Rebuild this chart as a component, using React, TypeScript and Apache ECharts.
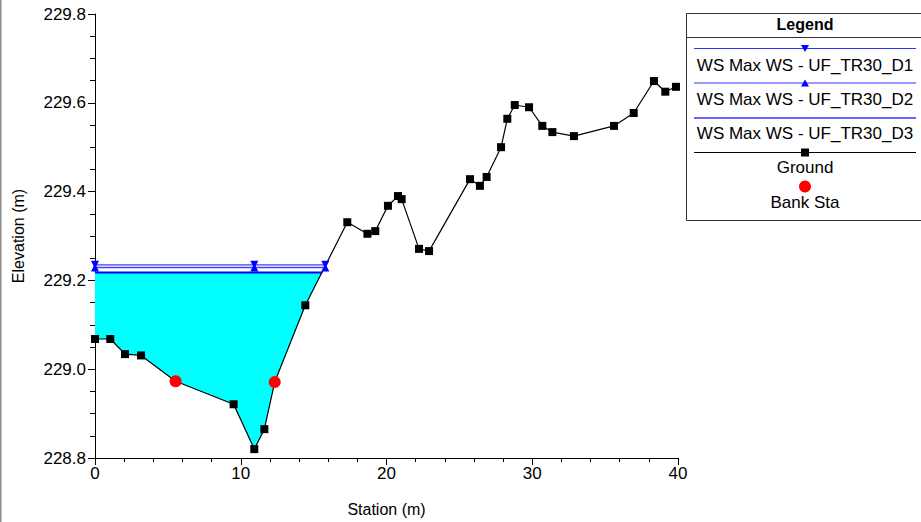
import React, { useEffect, useRef } from "react";
import * as echarts from "echarts";

const groundStation = [0, 1.05, 2.06, 3.16, 5.53, 9.51, 10.93, 11.62, 12.33, 14.43, 17.31, 18.69, 19.23, 20.1, 20.79, 21.04, 22.23, 22.92, 25.73, 26.41, 26.87, 27.86, 28.29, 28.8, 29.78, 30.69, 31.38, 32.86, 35.61, 36.96, 38.35, 39.13, 39.86];
const groundElev = [229.068, 229.068, 229.034, 229.031, 228.973, 228.921, 228.82, 228.865, 228.971, 229.144, 229.331, 229.305, 229.311, 229.368, 229.39, 229.383, 229.271, 229.266, 229.428, 229.413, 229.433, 229.5, 229.564, 229.595, 229.59, 229.548, 229.534, 229.525, 229.548, 229.577, 229.649, 229.625, 229.636];
const groundMarked = [true, true, true, true, false, true, true, true, false, true, true, true, true, true, true, true, true, true, true, true, true, true, true, true, true, true, true, true, true, true, true, true, true];

const bankStation = [5.53, 12.33];
const bankElev = [228.973, 228.971];

const ws1Station = [0, 10.93, 15.8];
const ws1Elev = [229.235, 229.235, 229.235];
const ws2Station = [0, 10.93, 15.8];
const ws2Elev = [229.229, 229.229, 229.229];
const ws3Station = [0, 15.6];
const ws3Elev = [229.218, 229.218];

const seriesNames = ["WS Max WS - UF_TR30_D1", "WS Max WS - UF_TR30_D2", "WS Max WS - UF_TR30_D3", "Ground", "Bank Sta"];

const FONT = "'Liberation Sans', Arial, Helvetica, sans-serif";

export default function App() {
  const ref = useRef<HTMLDivElement>(null);
  useEffect(() => {
    if (!ref.current) return;
    const chart = echarts.init(ref.current, null, { renderer: "svg" });

    const pair = (xs: number[], ys: number[]) => xs.map((x, i) => [x, ys[i]]);

    // water fill polygon: top along WS3, then ground back to station 0
    const wsEnd = ws3Station[ws3Station.length - 1];
    const fillPts: number[][] = [[ws3Station[0], ws3Elev[0]], [wsEnd, ws3Elev[ws3Elev.length - 1]]];
    for (let i = groundStation.length - 1; i >= 0; i--) {
      if (groundStation[i] < wsEnd) fillPts.push([groundStation[i], groundElev[i]]);
    }

    const lx = 805;
    const legendItems: any[] = [
      { type: "rect", shape: { x: 686.5, y: 13.5, width: 260, height: 207 }, style: { fill: "#fff", stroke: "#333", lineWidth: 1 } },
      { type: "text", x: lx, y: 24, style: { text: "Legend", font: `bold 16px ${FONT}`, fill: "#000", align: "center", verticalAlign: "middle" } },
      { type: "line", shape: { x1: 686, y1: 37.5, x2: 921, y2: 37.5 }, style: { stroke: "#333", lineWidth: 1 } },
      // D1
      { type: "line", shape: { x1: 694, y1: 48.5, x2: 916, y2: 48.5 }, style: { stroke: "#3333ff", lineWidth: 1.2 } },
      { type: "polygon", shape: { points: [[lx - 4, 45], [lx + 4, 45], [lx, 52]] }, style: { fill: "#0000ff" } },
      { type: "text", x: lx, y: 65, style: { text: seriesNames[0], font: `17px ${FONT}`, fill: "#000", align: "center", verticalAlign: "middle" } },
      // D2
      { type: "line", shape: { x1: 694, y1: 83, x2: 916, y2: 83 }, style: { stroke: "#3333ff", lineWidth: 1.2 } },
      { type: "polygon", shape: { points: [[lx - 4, 86.5], [lx + 4, 86.5], [lx, 79.5]] }, style: { fill: "#0000ff" } },
      { type: "text", x: lx, y: 99.5, style: { text: seriesNames[1], font: `17px ${FONT}`, fill: "#000", align: "center", verticalAlign: "middle" } },
      // D3
      { type: "line", shape: { x1: 694, y1: 118, x2: 916, y2: 118 }, style: { stroke: "#3333ff", lineWidth: 1.5 } },
      { type: "text", x: lx, y: 133.5, style: { text: seriesNames[2], font: `17px ${FONT}`, fill: "#000", align: "center", verticalAlign: "middle" } },
      // Ground
      { type: "line", shape: { x1: 694, y1: 152.5, x2: 916, y2: 152.5 }, style: { stroke: "#000", lineWidth: 1.2 } },
      { type: "rect", shape: { x: lx - 4, y: 148.5, width: 8, height: 8 }, style: { fill: "#000" } },
      { type: "text", x: lx, y: 167.5, style: { text: seriesNames[3], font: `17px ${FONT}`, fill: "#000", align: "center", verticalAlign: "middle" } },
      // Bank
      { type: "circle", shape: { cx: lx, cy: 186.5, r: 6 }, style: { fill: "#ff0000" } },
      { type: "text", x: lx, y: 202, style: { text: seriesNames[4], font: `17px ${FONT}`, fill: "#000", align: "center", verticalAlign: "middle" } },
      // page left border
      { type: "rect", shape: { x: 0, y: 0, width: 1.5, height: 522 }, style: { fill: "#8c8c8c" } },
    ];

    const option: any = {
      animation: false,
      backgroundColor: "#fff",
      grid: { left: 95, right: 243, top: 14, bottom: 64, containLabel: false },
      xAxis: {
        type: "value",
        min: 0,
        max: 40,
        interval: 10,
        name: "Station (m)",
        nameLocation: "middle",
        nameGap: 43,
        nameTextStyle: { fontFamily: FONT, fontSize: 16, color: "#000" },
        axisLine: { show: true, onZero: false, lineStyle: { color: "#000", width: 1 } },
        axisTick: { show: true, length: 7, lineStyle: { color: "#000" } },
        minorTick: { show: true, splitNumber: 5, length: 4, lineStyle: { color: "#000" } },
        axisLabel: { fontFamily: FONT, fontSize: 17, color: "#000", margin: 7 },
        splitLine: { show: false },
      },
      yAxis: {
        type: "value",
        min: 228.8,
        max: 229.8,
        interval: 0.2,
        name: "Elevation (m)",
        nameLocation: "middle",
        nameGap: 69,
        nameTextStyle: { fontFamily: FONT, fontSize: 16, color: "#000" },
        axisLine: { show: true, onZero: false, lineStyle: { color: "#000", width: 1 } },
        axisTick: { show: true, length: 7, lineStyle: { color: "#000" } },
        minorTick: { show: true, splitNumber: 4, length: 5, lineStyle: { color: "#000" } },
        axisLabel: { fontFamily: FONT, fontSize: 17, color: "#000", margin: 9, formatter: (v: number) => v.toFixed(1) },
        splitLine: { show: false },
      },
      series: [
        {
          type: "custom",
          name: "fill",
          z: 1,
          silent: true,
          data: [[0, ws3Elev[0]]],
          renderItem: (_params: any, api: any) => ({
            type: "polygon",
            shape: { points: fillPts.map((p) => api.coord(p)) },
            style: { fill: "#00ffff", stroke: "none" },
          }),
        },
        {
          type: "line",
          name: seriesNames[3],
          z: 2,
          data: groundStation.map((x, i) => ({
            value: [x, groundElev[i]],
            symbol: groundMarked[i] ? "rect" : "none",
          })),
          symbol: "rect",
          symbolSize: 8,
          showAllSymbol: true,
          lineStyle: { color: "#000", width: 1.2 },
          itemStyle: { color: "#000" },
        },
        {
          type: "scatter",
          name: seriesNames[4],
          z: 3,
          data: pair(bankStation, bankElev),
          symbol: "circle",
          symbolSize: 12,
          itemStyle: { color: "#ff0000", opacity: 1 },
        },
        {
          type: "line",
          name: seriesNames[2],
          z: 4,
          data: pair(ws3Station, ws3Elev),
          symbol: "none",
          lineStyle: { color: "#0000ff", width: 2 },
        },
        {
          type: "line",
          name: seriesNames[1],
          z: 5,
          data: pair(ws2Station, ws2Elev),
          symbol: "triangle",
          symbolSize: 8,
          showAllSymbol: true,
          lineStyle: { color: "#4040ff", width: 1.3 },
          itemStyle: { color: "#0000ff" },
        },
        {
          type: "line",
          name: seriesNames[0],
          z: 6,
          data: pair(ws1Station, ws1Elev),
          symbol: "triangle",
          symbolRotate: 180,
          symbolSize: 8,
          showAllSymbol: true,
          lineStyle: { color: "#4040ff", width: 1.3 },
          itemStyle: { color: "#0000ff" },
        },
      ],
      graphic: { elements: legendItems },
    };

    chart.setOption(option);
    return () => chart.dispose();
  }, []);

  return (
    <div
      ref={ref}
      style={{ position: "fixed", left: 0, top: 0, width: 921, height: 522, background: "#fff" }}
    />
  );
}
